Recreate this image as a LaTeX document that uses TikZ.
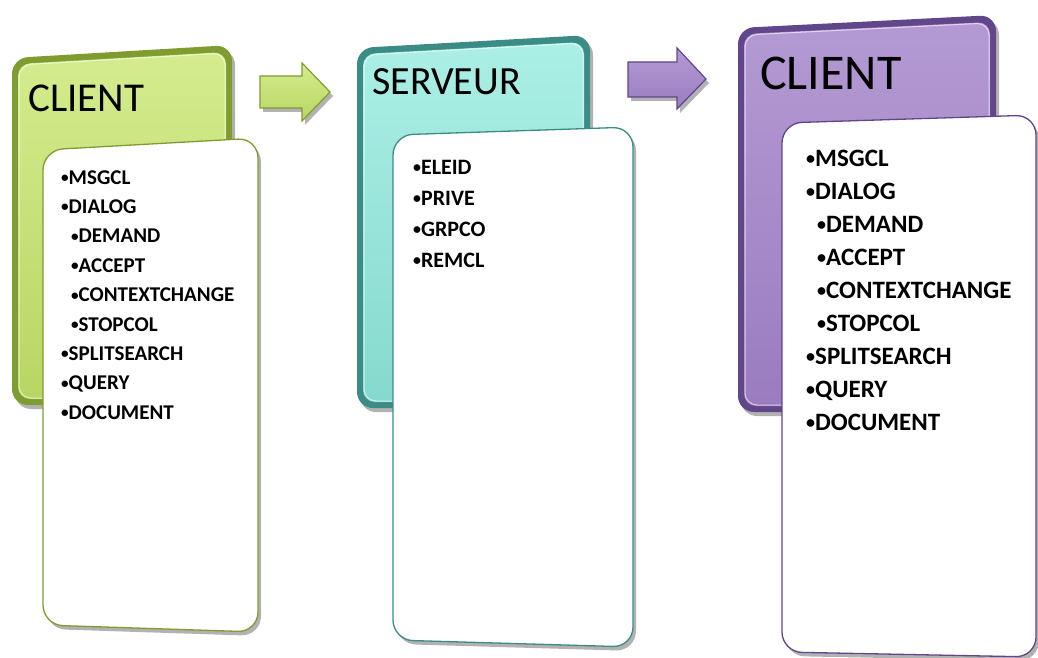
\documentclass[tikz,border=0pt]{standalone}
\usepackage{fontspec}
\setmainfont{Carlito}
\usetikzlibrary{shadows}
\definecolor{gL}{HTML}{D4EC8E}
\definecolor{gM}{HTML}{B8D663}
\definecolor{gD}{HTML}{7F9C30}
\definecolor{tL}{HTML}{ABEFE6}
\definecolor{tM}{HTML}{86D9CE}
\definecolor{tD}{HTML}{3A8C84}
\definecolor{pL}{HTML}{B49AD4}
\definecolor{pM}{HTML}{9A7CBF}
\definecolor{pD}{HTML}{614689}
\newcommand\mybul{\raisebox{0.07em}{\scalebox{0.72}{•}}}
\tikzset{
  shad/.style={drop shadow={shadow xshift=3pt,shadow yshift=-4pt,opacity=0.3,fill=black}},
  backframe/.style={shad,fill=#1,rounded corners=16pt},
  backface/.style={rounded corners=12pt},
  sheet/.style={shad,fill=white,draw=#1,line width=1.3pt,rounded corners=20pt},
  title/.style={anchor=base west,inner sep=0pt,text=black},
  item/.style={anchor=base west,inner sep=0pt,text=black,font=\bfseries\fontsize{#1}{#1}\selectfont},
  blockarrow/.style={shad,draw=#1,line width=1.2pt,line join=miter}
}
\begin{document}
\begin{tikzpicture}[x=1pt,y=-1pt]
\useasboundingbox (0,0) rectangle (1038,658);

% ---------------- green client ----------------
\path[backframe=gD] (12,58) -- (232,45) -- (232,405) -- (12,405) -- cycle;
\path[backface,top color=gL,bottom color=gM] (18,64) -- (226,52) -- (226,399) -- (18,399) -- cycle;
\draw[backface,white,opacity=0.6,line width=1pt] (19,65) -- (225,53) -- (225,398) -- (19,398) -- cycle;
\node[title,font=\fontsize{41}{41}\selectfont] (t1) at (28,112) {CLIENT};
\path[sheet=gD] (43,150) -- (258,138) -- (258,632) -- (43,625) -- cycle;
\foreach \t/\dx [count=\i] in {MSGCL/0,DIALOG/0,DEMAND/10,ACCEPT/10,CONTEXTCHANGE/10,STOPCOL/10,SPLITSEARCH/0,QUERY/0,DOCUMENT/0}
  \node[item=21] (l\i) at ({61+\dx},{184+29.4*(\i-1)}) {\mybul\t};

% green arrow
\path[blockarrow=gD,top color=gL,bottom color=gM] (260,76) -- (302,76) -- (302,63) -- (330,92) -- (302,121) -- (302,108) -- (260,108) -- cycle;

% ---------------- teal server ----------------
\path[backframe=tD] (357,48) -- (590,35) -- (590,408) -- (357,408) -- cycle;
\path[backface,top color=tL,bottom color=tM] (363,54) -- (584,42) -- (584,402) -- (363,402) -- cycle;
\draw[backface,white,opacity=0.6,line width=1pt] (364,55) -- (583,43) -- (583,401) -- (364,401) -- cycle;
\node[title,font=\fontsize{40}{40}\selectfont] (t2) at (372,95) {SERVEUR};
\path[sheet=tD] (393,135) -- (633,127) -- (633,647) -- (393,640) -- cycle;
\foreach \t [count=\i] in {ELEID,PRIVE,GRPCO,REMCL}
  \node[item=22] (m\i) at (413,{174+31*(\i-1)}) {\mybul\t};

% purple arrow
\path[blockarrow=pD,top color=pL,bottom color=pM] (628,62) -- (677,62) -- (677,48) -- (706,79) -- (677,109) -- (677,97) -- (628,97) -- cycle;

% ---------------- purple client ----------------
\path[backframe=pD] (738,28) -- (996,15) -- (996,412) -- (738,412) -- cycle;
\path[backface,top color=pL,bottom color=pM] (744,34) -- (990,22) -- (990,406) -- (744,406) -- cycle;
\draw[backface,white,opacity=0.6,line width=1pt] (745,35) -- (989,23) -- (989,405) -- (745,405) -- cycle;
\node[title,font=\fontsize{50}{50}\selectfont] (t3) at (760,90) {CLIENT};
\path[sheet=pD] (782,123) -- (1036,115) -- (1036,657) -- (782,652) -- cycle;
\foreach \t/\dx [count=\i] in {MSGCL/0,DIALOG/0,DEMAND/11,ACCEPT/11,CONTEXTCHANGE/11,STOPCOL/11,SPLITSEARCH/0,QUERY/0,DOCUMENT/0}
  \node[item=25] (r\i) at ({806+\dx},{166+33*(\i-1)}) {\mybul\t};
\end{tikzpicture}
\end{document}
